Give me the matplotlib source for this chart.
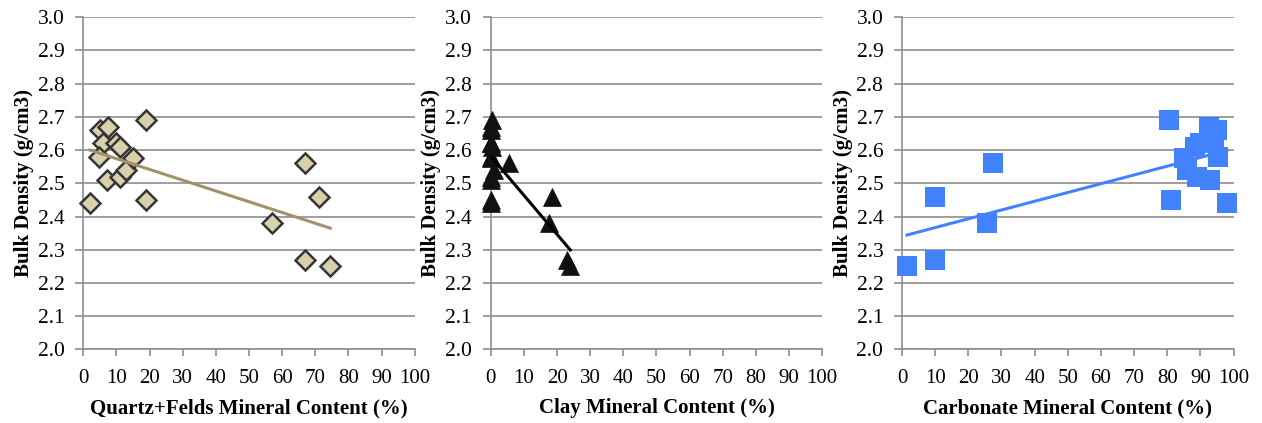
import numpy as np
import matplotlib
matplotlib.use("Agg")
import matplotlib.pyplot as plt

# Per-sample mineral composition (%) and measured bulk density (g/cm3)
quartz_felds = [2, 5, 7.5, 6, 4.8, 10, 11, 7, 11, 13, 15, 19, 19, 67, 71, 57, 67, 74.5]
clay = [0, 0, 0, 0, 0, 0, 0.5, 0, 0, 1, 0, 0.5, 0, 5.5, 18.5, 17.5, 23, 24]
carbonate = [98, 95, 92.5, 94, 95.2, 90, 88.5, 93, 89, 86, 85, 80.5, 81, 27.5, 10, 25.5, 10, 1.5]
bulk_density = [2.44, 2.66, 2.67, 2.62, 2.58, 2.62, 2.61, 2.51, 2.52, 2.54, 2.575,
                2.69, 2.45, 2.56, 2.46, 2.38, 2.27, 2.25]

x_ticks = list(range(0, 101, 10))
y_ticks = [round(2.0 + 0.1 * i, 1) for i in range(11)]

panels = [
    dict(x=quartz_felds, label="Quartz+Felds Mineral Content (%)",
         marker="D", ms=10.4, face="#d9d0ac", edge="#363636", mew=1.8, line="#a0936a"),
    dict(x=clay, label="Clay Mineral Content (%)",
         marker="^", ms=12.5, face="#111111", edge="#111111", mew=0.5, line="#000000"),
    dict(x=carbonate, label="Carbonate Mineral Content (%)",
         marker="s", ms=14.8, face="#4282fc", edge="#4282fc", mew=0, line="#4282fc"),
]

W, H = 1262, 423
fig = plt.figure(figsize=(W / 100, H / 100), dpi=100)
serif = "Liberation Serif"
grid_c = "#8e8e8e"

lefts = [83.3, 490.7, 902.0]
ax_w, ax_h = 331.5, 332.0
ax_bottom = H - 349.3

for left, p in zip(lefts, panels):
    ax = fig.add_axes([left / W, ax_bottom / H, ax_w / W, ax_h / H])
    ax.set_xlim(0, 100)
    ax.set_ylim(2.0, 3.0)
    ax.set_xticks(x_ticks)
    ax.set_yticks(y_ticks)
    ax.set_xticklabels([str(t) for t in x_ticks], fontfamily=serif, fontsize=15)
    ax.set_yticklabels([f"{t:.1f}" for t in y_ticks], fontfamily=serif, fontsize=15.5)
    ax.grid(axis="y", color=grid_c, linewidth=1.2)
    ax.set_axisbelow(True)
    for s in ("top", "right"):
        ax.spines[s].set_visible(False)
    for s in ("left", "bottom"):
        ax.spines[s].set_color(grid_c)
        ax.spines[s].set_linewidth(1.2)
    ax.tick_params(axis="x", direction="out", length=5, width=1.2, color=grid_c, pad=9)
    ax.tick_params(axis="y", direction="out", length=6, width=1.2, color=grid_c, pad=7.5)

    xs = np.asarray(p["x"], dtype=float)
    ys = np.asarray(bulk_density, dtype=float)
    ax.plot(xs, ys, linestyle="none", marker=p["marker"], ms=p["ms"],
            markerfacecolor=p["face"], markeredgecolor=p["edge"],
            markeredgewidth=p["mew"], clip_on=False, zorder=3)

    # Least-squares linear trend over the sampled range
    slope, intercept = np.polyfit(xs, ys, 1)
    xl = np.array([xs.min(), xs.max()])
    ax.plot(xl, slope * xl + intercept, color=p["line"], linewidth=2.2, zorder=4)

    ax.set_xlabel(p["label"], fontfamily=serif, fontweight="bold", fontsize=15, va="center")
    ax.xaxis.set_label_coords(0.5, -0.177)
    ax.set_ylabel("Bulk Density (g/cm3)", fontfamily=serif, fontweight="bold",
                  fontsize=15, va="center")
    ax.yaxis.set_label_coords(-0.179, 0.5)

fig.savefig("out.png", dpi=100)
